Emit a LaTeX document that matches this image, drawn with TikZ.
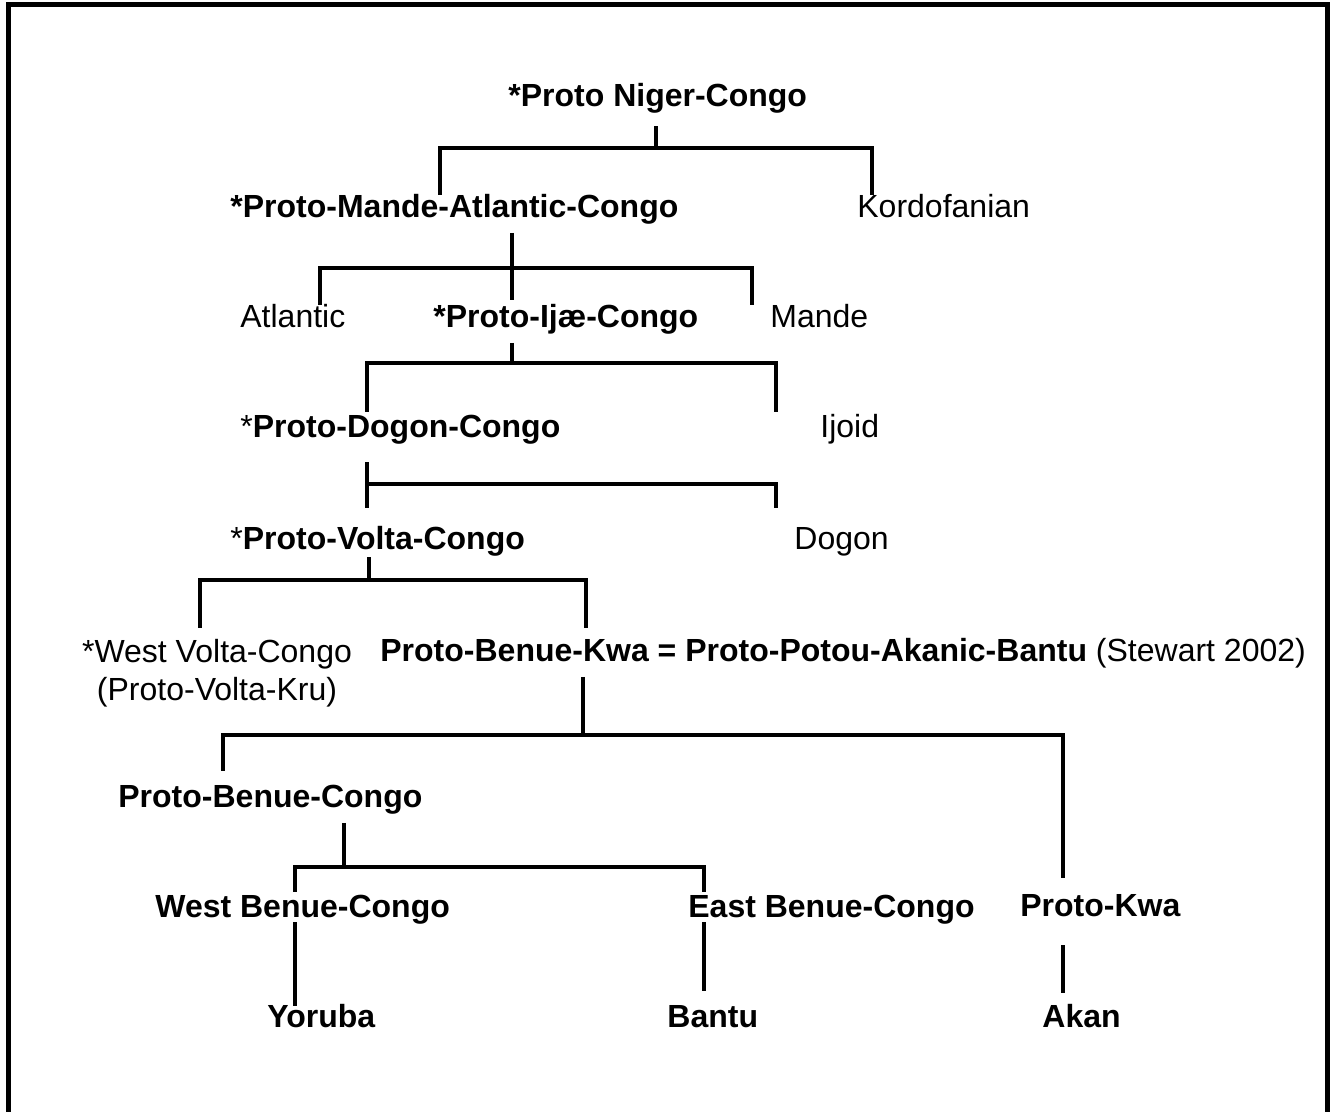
\documentclass[tikz,border=0pt]{standalone}
\usepackage{fontspec}
\setmainfont{Liberation Sans}
\usepackage{tikz}
\tikzset{
  lbl/.style     = {font=\fontsize{16}{19}\selectfont, inner sep=0pt},  % plain text
  taxon/.style   = {lbl, anchor=base west,
                    text height=11.5pt, text depth=7.2pt},             % cap line to below baseline
  proto/.style   = {taxon, font=\fontsize{16}{19}\selectfont\bfseries}, % reconstructed node
  branch/.style  = {line width=2.2pt, line join=miter},
  boxline/.style = {line width=2.5pt, line join=miter}
}

\begin{document}
\begin{tikzpicture}[x=0.5pt, y=-0.5pt]
  \useasboundingbox (0,0) rectangle (1330,1112);
  \draw[boxline] (8.5,1112) -- (8.5,4.5) -- (1327.5,4.5) -- (1327.5,1112);

  \node[proto] (pnc)    at (508,107)  {*Proto Niger-Congo};
  \node[proto] (pmac)   at (230,218)  {*Proto-Mande-Atlantic-Congo};
  \node[taxon] (kord)   at (857,218)  {Kordofanian};
  \node[taxon] (atl)    at (240,328)  {Atlantic};
  \node[proto] (pic)    at (433,328)  {*Proto-Ijæ-Congo};
  \node[taxon] (mande)  at (770,328)  {Mande};
  \node[proto] (pdc)    at (240,438)  {{\mdseries *}Proto-Dogon-Congo};
  \node[taxon] (ijoid)  at (820,438)  {Ijoid};
  \node[proto] (pvc)    at (230,550)  {{\mdseries *}Proto-Volta-Congo};
  \node[taxon] (dogon)  at (794,550)  {Dogon};
  \node[lbl, align=center, anchor=north] (wvc) at (217,639) {*West Volta-Congo\\(Proto-Volta-Kru)};
  \node[proto] (pbk)    at (380,662)  {Proto-Benue-Kwa = Proto-Potou-Akanic-Bantu {\mdseries (Stewart 2002)}};
  \node[proto] (pbc)    at (118,808)  {Proto-Benue-Congo};
  \node[proto] (wbc)    at (155,918)  {West Benue-Congo};
  \node[proto] (ebc)    at (688,918)  {East Benue-Congo};
  \node[proto] (pkwa)   at (1020,917) {Proto-Kwa};
  \node[proto] (yoruba) at (267,1027) {Yoruba};
  \node[proto] (bantu)  at (667,1027) {Bantu};
  \node[proto] (akan)   at (1042,1027) {Akan};

  \coordinate (b1) at (656,148);  \coordinate (b1w) at (440,148); \coordinate (b1e) at (872,148);
  \coordinate (b2) at (512,268);  \coordinate (b2w) at (320,268); \coordinate (b2e) at (752,268);
  \coordinate (b3) at (512,363);  \coordinate (b3w) at (367,363); \coordinate (b3e) at (776,363);
  \coordinate (b4w) at (367,484); \coordinate (b4e) at (776,484);
  \coordinate (b5) at (369,580);  \coordinate (b5w) at (200,580); \coordinate (b5e) at (586,580);
  \coordinate (b6) at (583,735);  \coordinate (b6w) at (223,735); \coordinate (b6e) at (1063,735);
  \coordinate (b7) at (344,867);  \coordinate (b7w) at (295,867); \coordinate (b7e) at (704,867);

  \draw[branch, shorten <=2.3pt] (pnc.south -| b1) -- (b1);
  \draw[branch] (pmac.north -| b1w) -- (b1w) -- (b1e) -- (kord.north -| b1e);
  \draw[branch, shorten >=2.5pt] (pmac.south -| b2) -- (pic.north -| b2);
  \draw[branch] (atl.north -| b2w) -- (b2w) -- (b2e) -- (mande.north -| b2e);
  \draw[branch] (pic.south -| b3) -- (b3);
  \draw[branch, shorten <=1.5pt, shorten >=1.5pt] (pdc.north -| b3w) -- (b3w) -- (b3e) -- (ijoid.north -| b3e);
  \draw[branch, shorten <=4.8pt, shorten >=9.5pt] (pdc.south -| b4w) -- (pvc.north -| b4w);
  \draw[branch, shorten >=9.5pt] (b4w) -- (b4e) -- (dogon.north -| b4e);
  \draw[branch, shorten <=-3.7pt] (pvc.south -| b5) -- (b5);
  \draw[branch, shorten <=5.5pt, shorten >=5.5pt] (wvc.north -| b5w) -- (b5w) -- (b5e) -- (pbk.north -| b5e);
  \draw[branch] (pbk.south -| b6) -- (b6);
  \draw[branch, shorten <=7pt, shorten >=8pt] (pbc.north -| b6w) -- (b6w) -- (b6e) -- (pkwa.north -| b6e);
  \draw[branch] (pbc.south -| b7) -- (b7);
  \draw[branch, shorten <=1.5pt, shorten >=1.5pt] (wbc.north -| b7w) -- (b7w) -- (b7e) -- (ebc.north -| b7e);
  \draw[branch, shorten <=-5.2pt, shorten >=-1pt] (wbc.south -| b7w) -- (yoruba.north -| b7w);
  \draw[branch, shorten <=-5.2pt, shorten >=6.5pt] (ebc.south -| b7e) -- (bantu.north -| b7e);
  \draw[branch, shorten <=6.8pt, shorten >=5.5pt] (pkwa.south -| b6e) -- (akan.north -| b6e);
\end{tikzpicture}
\end{document}
